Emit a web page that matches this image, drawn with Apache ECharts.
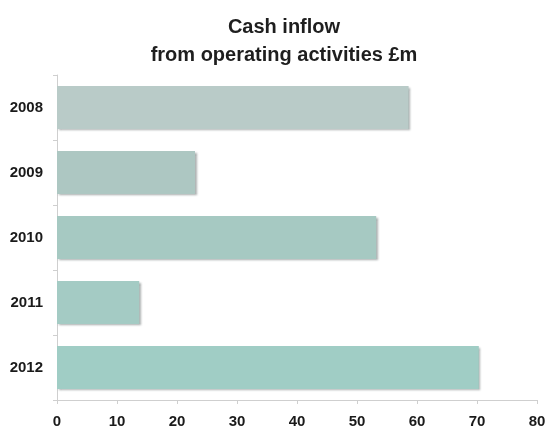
<!DOCTYPE html>
<html>
<head>
<meta charset="utf-8">
<script src="https://cdn.jsdelivr.net/npm/echarts@6/dist/echarts.min.js"></script>
<style>
html,body{margin:0;padding:0;background:#fff;}
#chart{width:550px;height:426px;}
</style>
</head>
<body>
<div id="chart"></div>
<script>
var categories = ['2008', '2009', '2010', '2011', '2012'];
var values = [58.6, 23, 53.2, 13.7, 70.3];
var barColors = ['#b9cbc8', '#adc7c2', '#a6c9c2', '#a4cbc4', '#a0cdc5'];
var xTicks = [0, 10, 20, 30, 40, 50, 60, 70, 80];

var chart = echarts.init(document.getElementById('chart'));
var seriesData = values.map(function (v, i) {
  return { value: v, itemStyle: { color: barColors[i] } };
});
chart.setOption({
  animation: false,
  backgroundColor: '#ffffff',
  title: {
    text: 'Cash inflow\nfrom operating activities £m',
    left: 279,
    textAlign: 'center',
    top: 8,
    textStyle: {
      fontFamily: 'Liberation Sans, Arial, sans-serif',
      fontWeight: 'bold',
      fontSize: 20,
      lineHeight: 28,
      color: '#1e1e1e'
    }
  },
  grid: { left: 57, right: 13, top: 75, bottom: 26, containLabel: false, outerBoundsMode: 'none' },
  xAxis: {
    type: 'value',
    min: xTicks[0],
    max: xTicks[xTicks.length - 1],
    interval: 10,
    axisLine: { show: true, lineStyle: { color: '#cfcfcf', width: 1 } },
    axisTick: { show: true, length: 4, lineStyle: { color: '#cfcfcf' } },
    splitLine: { show: false },
    axisLabel: {
      margin: 14,
      fontFamily: 'Liberation Sans, Arial, sans-serif',
      fontWeight: 'bold',
      fontSize: 15,
      color: '#1a1a1a'
    }
  },
  yAxis: {
    type: 'category',
    data: categories,
    inverse: true,
    axisLine: { show: true, lineStyle: { color: '#cfcfcf', width: 1 } },
    axisTick: { show: true, length: 4, lineStyle: { color: '#cfcfcf' } },
    axisLabel: {
      margin: 14,
      fontFamily: 'Liberation Sans, Arial, sans-serif',
      fontWeight: 'bold',
      fontSize: 15,
      color: '#1a1a1a'
    }
  },
  series: [{
    type: 'bar',
    data: seriesData,
    barCategoryGap: '34%',
    itemStyle: {
      shadowColor: 'rgba(60,70,70,0.45)',
      shadowBlur: 2,
      shadowOffsetX: 1.5,
      shadowOffsetY: 1.5
    }
  }]
});
</script>
</body>
</html>
